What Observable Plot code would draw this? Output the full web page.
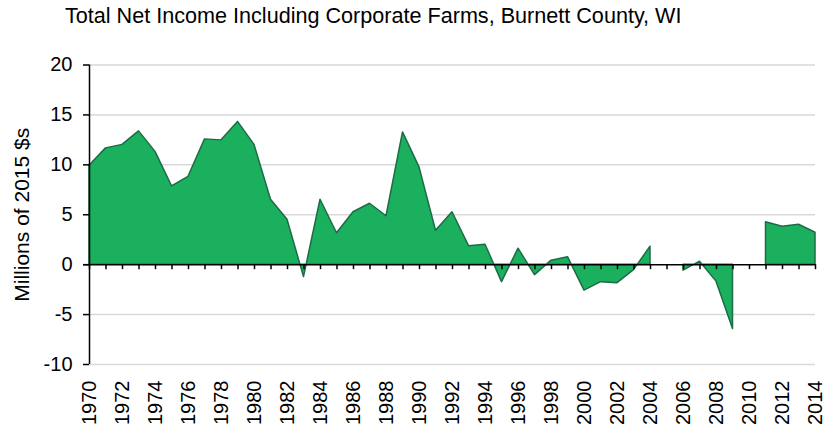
<!DOCTYPE html>
<html>
<head>
<meta charset="utf-8">
<script src="https://cdn.jsdelivr.net/npm/d3@7"></script>
<script src="https://cdn.jsdelivr.net/npm/@observablehq/plot@0.6"></script>
<style>
  body { margin: 0; background: #fff; }
  #title { height: 40px; box-sizing: border-box; padding-left: 65px; font: 21.6px "Liberation Sans", Arial, sans-serif; line-height: 32px; color: #000; white-space: nowrap; }
</style>
</head>
<body>
<div id="title">Total Net Income Including Corporate Farms, Burnett County, WI</div>
<div id="chart"></div>
<script>
const years = d3.range(1970, 2015);
const values = [
  9.9, 11.65, 12.0, 13.35, 11.3, 7.85, 8.8, 12.55, 12.45, 14.3,
  12.0, 6.5, 4.5, -1.25, 6.5, 3.15, 5.25, 6.1, 4.85, 13.25,
  9.75, 3.4, 5.25, 1.85, 2.0, -1.75, 1.6, -1.05, 0.4, 0.75,
  -2.6, -1.75, -1.85, -0.55, 1.8, null, -0.6, 0.3, -1.7, -6.45,
  null, 4.25, 3.8, 4.0, 3.2
];
const yTicks = [-10, -5, 0, 5, 10, 15, 20];
const gridValues = [-10, -5, 5, 10, 15, 20];
const xLabelYears = d3.range(1970, 2015, 2);
const yLabel = "Millions of 2015 $s";

const data = years.map((year, i) => ({year, value: values[i] == null ? NaN : values[i]}));

const chart = Plot.plot({
  width: 834,
  height: 390,
  marginTop: 24.5,
  marginBottom: 66,
  marginLeft: 89,
  marginRight: 19,
  style: {fontFamily: "'Liberation Sans', Arial, sans-serif", fontSize: "20px", color: "#000", background: "#fff"},
  x: {domain: [1970, 2014], axis: null},
  y: {domain: [-10, 20], axis: null},
  marks: [
    Plot.ruleY(gridValues, {stroke: "#d9d9d9", strokeWidth: 1.5}),
    Plot.areaY(data, {x: "year", y1: 0, y2: "value", fill: "#1bb05e", stroke: "#1d6b47", strokeWidth: 1.5}),
    Plot.ruleY([0], {stroke: "#000", strokeWidth: 1.5, insetLeft: -6}),
    Plot.ruleX(years, {x: d => d, y1: 0, y2: 0, insetBottom: -5, stroke: "#000", strokeWidth: 1.5}),
    Plot.ruleX([1970], {stroke: "#000", strokeWidth: 1.5}),
    Plot.axisY({ticks: yTicks, tickSize: 6, tickPadding: 11, tickFormat: d => String(d), fontSize: 20, strokeWidth: 1.5, label: null}),
    Plot.axisX({anchor: "bottom", ticks: xLabelYears, tickFormat: d => String(d), tickRotate: -90, tickSize: 0, tickPadding: 16, fontSize: 20, label: null}),
    Plot.text([yLabel], {frameAnchor: "left", textAnchor: "middle", rotate: -90, dx: -67, fontSize: 21, fill: "#000"})
  ]
});
document.getElementById("chart").appendChild(chart);
</script>
</body>
</html>
